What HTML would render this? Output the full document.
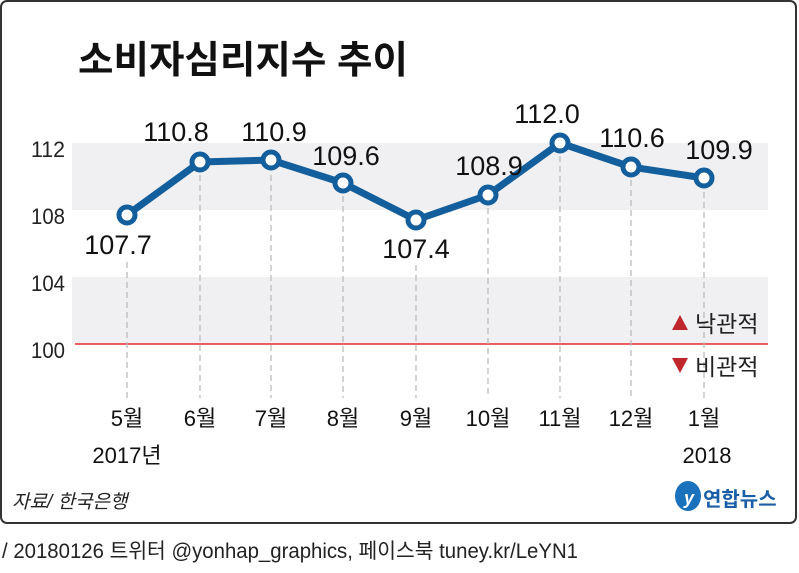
<!DOCTYPE html>
<html><head><meta charset="utf-8"><style>
body{margin:0;background:#fff;}
svg text{font-family:"Liberation Sans","Noto Sans CJK KR",sans-serif;}
</style></head><body>
<svg width="799" height="568" viewBox="0 0 799 568" xmlns="http://www.w3.org/2000/svg">
<rect x="1" y="1" width="795" height="522" rx="6" fill="#fff" stroke="#333" stroke-width="2"/>
<text x="78" y="73" font-size="38" font-weight="bold" fill="#111" textLength="330" lengthAdjust="spacingAndGlyphs">소비자심리지수 추이</text>
<rect x="72" y="143" width="696" height="67" fill="#f0f0f2"/>
<rect x="72" y="277" width="696" height="67" fill="#f0f0f2"/>
<line x1="75" y1="344" x2="768" y2="344" stroke="#e8282e" stroke-width="1.5"/>
<g font-size="22" fill="#222" text-anchor="end">
<text x="65" y="157" textLength="34" lengthAdjust="spacingAndGlyphs">112</text><text x="65" y="224" textLength="34" lengthAdjust="spacingAndGlyphs">108</text><text x="65" y="291" textLength="34" lengthAdjust="spacingAndGlyphs">104</text><text x="65" y="358" textLength="34" lengthAdjust="spacingAndGlyphs">100</text>
</g>
<g stroke="#bbb" stroke-width="1.3" stroke-dasharray="6,4">
<line x1="127" y1="262" x2="127" y2="398"/>
<line x1="200" y1="175" x2="200" y2="398"/>
<line x1="271" y1="175" x2="271" y2="398"/>
<line x1="343" y1="196" x2="343" y2="398"/>
<line x1="416" y1="265" x2="416" y2="398"/>
<line x1="488" y1="208" x2="488" y2="398"/>
<line x1="560" y1="156" x2="560" y2="398"/>
<line x1="631" y1="180" x2="631" y2="398"/>
<line x1="704" y1="192" x2="704" y2="398"/>
</g>
<polyline points="127,215 200,162 271,160 343,183 416,220 488,195 560,143 631,167 704,178" fill="none" stroke="#135e9c" stroke-width="7" stroke-linejoin="round"/>
<g fill="#fff" stroke="#135e9c" stroke-width="5">
<circle cx="127" cy="215" r="8"/><circle cx="200" cy="162" r="8"/><circle cx="271" cy="160" r="8"/><circle cx="343" cy="183" r="8"/><circle cx="416" cy="220" r="8"/><circle cx="488" cy="195" r="8"/><circle cx="560" cy="143" r="8"/><circle cx="631" cy="167" r="8"/><circle cx="704" cy="178" r="8"/>
</g>
<g font-size="27" fill="#111" text-anchor="middle">
<text x="118" y="254">107.7</text>
<text x="176" y="141">110.8</text>
<text x="274" y="141">110.9</text>
<text x="346" y="165">109.6</text>
<text x="416" y="258">107.4</text>
<text x="489" y="175">108.9</text>
<text x="547" y="123">112.0</text>
<text x="632" y="147">110.6</text>
<text x="719" y="159">109.9</text>
</g>
<path d="M672,330 L688,330 L680,315 Z" fill="#c0272d"/>
<path d="M672,358 L688,358 L680,373 Z" fill="#c0272d"/>
<g font-size="23" fill="#222">
<text x="695" y="332">낙관적</text>
<text x="695" y="375">비관적</text>
</g>
<g font-size="22" fill="#111" text-anchor="middle">
<text x="127" y="426">5월</text><text x="200" y="426">6월</text><text x="271" y="426">7월</text><text x="343" y="426">8월</text><text x="416" y="426">9월</text><text x="488" y="426">10월</text><text x="560" y="426">11월</text><text x="631" y="426">12월</text><text x="704" y="426">1월</text>
<text x="127" y="463">2017년</text><text x="707" y="463">2018</text>
</g>
<text x="12" y="508" font-size="19" font-style="italic" fill="#222">자료/ 한국은행</text>
<ellipse cx="688" cy="496" rx="13" ry="15" fill="#1a72bd"/>
<text x="684" y="504" font-size="18" font-style="italic" fill="#fff" font-weight="bold">y</text>
<text x="703" y="506" font-size="20" font-weight="bold" fill="#1a5ea8">연합뉴스</text>
<text x="2" y="558" font-size="21" fill="#222" textLength="576" lengthAdjust="spacingAndGlyphs">/ 20180126 트위터 @yonhap_graphics, 페이스북 tuney.kr/LeYN1</text>
</svg>
</body></html>
